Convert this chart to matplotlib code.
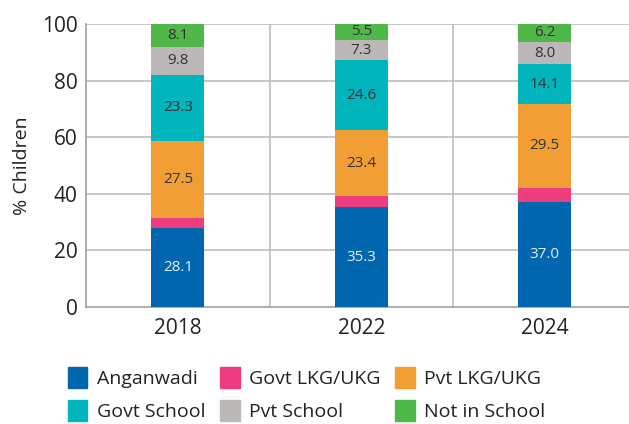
import numpy as np
import matplotlib.pyplot as plt
from matplotlib.patches import Patch

plt.rcParams['font.family'] = ['Open Sans', 'DejaVu Sans']

years = ["2018", "2022", "2024"]
categories = ["Anganwadi", "Govt LKG/UKG", "Pvt LKG/UKG", "Govt School", "Pvt School", "Not in School"]
anganwadi = [28.1, 35.3, 37.0]
govt_lkg = [3.2, 3.9, 5.2]
pvt_lkg = [27.5, 23.4, 29.5]
govt_school = [23.3, 24.6, 14.1]
pvt_school = [9.8, 7.3, 8.0]
not_in_school = [8.1, 5.5, 6.2]
y_ticks = [0, 20, 40, 60, 80, 100]

series = [anganwadi, govt_lkg, pvt_lkg, govt_school, pvt_school, not_in_school]
colors = ["#0066b0", "#ee3d7f", "#f19f35", "#00b5bc", "#bcb8b8", "#50b848"]
show_label = [True, False, True, True, True, True]
label_colors = ["#e8eef8", "#333333", "#333333", "#333333", "#333333", "#333333"]

fig = plt.figure(figsize=(6.29, 4.24), dpi=100)
ax = fig.add_axes([0.137, 0.276, 0.863, 0.667])

x = np.arange(len(years))
bottom = np.zeros(len(years))
for vals, col, show, lcol in zip(series, colors, show_label, label_colors):
    vals = np.array(vals)
    ax.bar(x, vals, width=0.29, bottom=bottom, color=col, zorder=3)
    if show:
        for xi, b, v in zip(x, bottom, vals):
            ax.text(xi, b + v / 2, f"{v:.1f}", ha='center', va='center',
                    fontsize=11, color=lcol, zorder=4)
    bottom += vals

ax.set_xlim(-0.5, 2.46)
ax.set_ylim(0, 100)
ax.set_yticks(y_ticks)
ax.set_xticks(x)
ax.set_xticklabels(years)
ax.tick_params(axis='both', length=0, labelsize=15, colors='#222222')
ax.tick_params(axis='x', pad=8)
ax.tick_params(axis='y', pad=6)
ax.set_ylabel("% Children", fontsize=14, color='#222222', labelpad=8)

# grid: horizontal at ticks, vertical between categories
for yv in y_ticks[1:]:
    ax.axhline(yv, color='#bdbdbd', linewidth=1.2, zorder=1)
for xv in [0.5, 1.5]:
    ax.axvline(xv, color='#bdbdbd', linewidth=1.2, zorder=1)

for s in ['top', 'right']:
    ax.spines[s].set_visible(False)
ax.spines['left'].set_color('#a0a0a0')
ax.spines['bottom'].set_color('#a0a0a0')
ax.spines['left'].set_linewidth(1.2)
ax.spines['bottom'].set_linewidth(1.2)

handles = [Patch(color=c, label=l) for c, l in zip(colors, categories)]
order = [0, 3, 1, 4, 2, 5]
fig.legend([handles[i] for i in order], [categories[i] for i in order],
           ncol=3, loc='lower left', bbox_to_anchor=(0.08, -0.035),
           frameon=False, fontsize=14, handlelength=1.0, handleheight=1.3,
           handletextpad=0.5, columnspacing=0.75, labelspacing=0.62,
           labelcolor='#222222')

fig.savefig("out.png", dpi=100)
